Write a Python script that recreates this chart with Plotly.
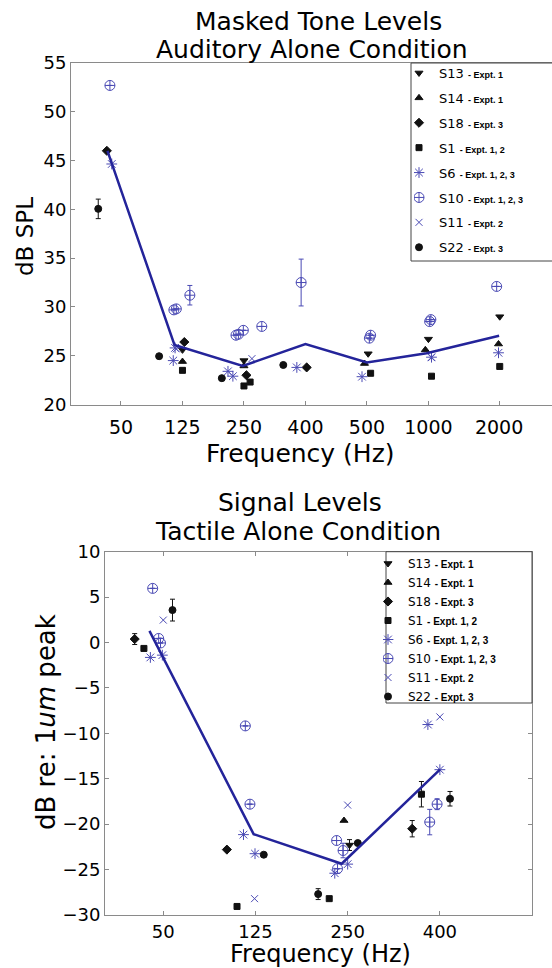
import plotly.graph_objects as go

# ---------------- axis ticks ----------------
top_tick_pos = [1, 2, 3, 4, 5, 6, 7.15]
top_tick_labels = ["50", "125", "250", "400", "500", "1000", "2000"]
top_y_ticks = [20, 25, 30, 35, 40, 45, 50, 55]
bot_tick_pos = [1, 2, 3, 4]
bot_tick_labels = ["50", "125", "250", "400"]
bot_y_ticks = [-30, -25, -20, -15, -10, -5, 0, 5, 10]

# ---------------- top panel (Masked tone levels, dB SPL) ----------------
top_line_x = [0.78, 1.87, 2.98, 4.0, 5.0, 5.97, 7.15]
top_line_y = [46.0, 26.1, 23.95, 26.2, 24.3, 25.25, 27.05]

top_S13_x = [2.0, 3.0, 5.02, 6.0, 7.16]
top_S13_y = [25.6, 24.5, 25.2, 26.7, 29.0]
top_S14_x = [2.0, 3.0, 4.96, 5.95, 7.14]
top_S14_y = [24.4, 23.95, 24.2, 25.6, 26.2]
top_S18_x = [0.77, 2.03, 3.04, 4.02]
top_S18_y = [46.0, 26.4, 23.0, 23.8]
top_S1_x = [2.0, 3.0, 3.1, 5.06, 6.05, 7.16]
top_S1_y = [23.5, 21.9, 22.3, 23.2, 22.9, 23.9]
top_S6_x = [0.85, 1.85, 1.88, 2.74, 2.82, 3.86, 4.92, 6.05, 7.14]
top_S6_y = [44.65, 24.5, 25.8, 23.4, 22.9, 23.8, 22.85, 24.85, 25.3]
top_S10_x = [0.82, 1.86, 1.9, 2.12, 2.87, 2.91, 2.99, 3.29, 3.93, 5.04, 5.06, 6.02, 6.04, 7.11]
top_S10_y = [52.7, 29.7, 29.8, 31.2, 27.1, 27.2, 27.6, 28.0, 32.5, 26.8, 27.1, 28.5, 28.7, 32.1]
top_S10_err = [None, None, None, 1.0, None, None, None, None, 2.4, None, None, None, None, None]
top_S11_x = [1.9, 3.13, 6.05]
top_S11_y = [25.7, 24.7, 24.8]
top_S22_x = [0.63, 1.62, 2.64, 3.64]
top_S22_y = [40.05, 24.95, 22.7, 24.05]
top_S22_err = [1.0, None, None, None]

# ---------------- bottom panel (Signal levels, dB re 1um peak) ----------------
bot_line_x = [0.85, 1.98, 2.935, 4.0]
bot_line_y = [1.29, -21.1, -24.36, -14.0]

bot_S13_x = [3.02]
bot_S13_y = [-22.3]
bot_S13_err = [0.6]
bot_S14_x = [2.96]
bot_S14_y = [-19.6]
bot_S18_x = [0.69, 1.69, 3.70]
bot_S18_y = [0.38, -22.8, -20.5]
bot_S18_err = [0.6, None, 0.9]
bot_S1_x = [0.79, 1.80, 2.80, 3.80]
bot_S1_y = [-0.65, -29.06, -28.2, -16.7]
bot_S1_err = [None, None, None, 1.4]
bot_S6_x = [0.86, 0.99, 1.87, 1.995, 2.86, 3.0, 3.87, 4.0]
bot_S6_y = [-1.64, -1.39, -21.15, -23.25, -25.4, -24.4, -9.03, -14.0]
bot_S10_x = [0.885, 0.95, 0.97, 1.89, 1.94, 2.88, 2.89, 2.95, 3.89, 3.97]
bot_S10_y = [5.96, 0.45, -0.05, -9.18, -17.8, -21.8, -24.9, -22.9, -19.77, -17.8]
bot_S10_err = [None, None, None, None, None, None, None, 0.8, 1.4, 0.6]
bot_S11_x = [1.0, 1.99, 3.0, 4.0]
bot_S11_y = [2.47, -28.2, -17.9, -8.19]
bot_S22_x = [1.10, 2.09, 2.68, 3.11, 4.11]
bot_S22_y = [3.57, -23.36, -27.7, -22.08, -17.2]
bot_S22_err = [1.2, None, 0.6, None, 0.8]

# ---------------- styling ----------------
W, H = 552, 968
BLACK = "#111111"
BLUE = "#4a4ab4"
LINE = "#24249a"
FONT = "DejaVu Sans, Liberation Sans, Arial, sans-serif"
SMALLFONT = "Liberation Sans"

subjects = [
    ("S13", "Expt. 1", "triangle-down", BLACK, 7),
    ("S14", "Expt. 1", "triangle-up", BLACK, 7),
    ("S18", "Expt. 3", "diamond", BLACK, 7),
    ("S1", "Expt. 1, 2", "square", BLACK, 6),
    ("S6", "Expt. 1, 2, 3", "asterisk-open", BLUE, 9),
    ("S10", "Expt. 1, 2, 3", "circle-cross-open", BLUE, 10),
    ("S11", "Expt. 2", "x-thin-open", BLUE, 7),
    ("S22", "Expt. 3", "circle", BLACK, 7),
]

top_data = {
    "S13": (top_S13_x, top_S13_y, None),
    "S14": (top_S14_x, top_S14_y, None),
    "S18": (top_S18_x, top_S18_y, None),
    "S1": (top_S1_x, top_S1_y, None),
    "S6": (top_S6_x, top_S6_y, None),
    "S10": (top_S10_x, top_S10_y, top_S10_err),
    "S11": (top_S11_x, top_S11_y, None),
    "S22": (top_S22_x, top_S22_y, top_S22_err),
}
bot_data = {
    "S13": (bot_S13_x, bot_S13_y, bot_S13_err),
    "S14": (bot_S14_x, bot_S14_y, None),
    "S18": (bot_S18_x, bot_S18_y, bot_S18_err),
    "S1": (bot_S1_x, bot_S1_y, bot_S1_err),
    "S6": (bot_S6_x, bot_S6_y, None),
    "S10": (bot_S10_x, bot_S10_y, bot_S10_err),
    "S11": (bot_S11_x, bot_S11_y, None),
    "S22": (bot_S22_x, bot_S22_y, bot_S22_err),
}


def label(name, expt, small):
    return (f"{name} <span style='font-family:{SMALLFONT};font-size:{small}px;"
            f"font-weight:bold'>- {expt}</span>")


fig = go.Figure()

for panel, data, xa, ya, leg, lx, ly, small in [
    ("t", top_data, "x", "y", "legend", top_line_x, top_line_y, 9),
    ("b", bot_data, "x2", "y2", "legend2", bot_line_x, bot_line_y, 10),
]:
    for name, expt, sym, col, size in subjects:
        xs, ys, err = data[name]
        ey = None
        if err is not None:
            ey = dict(type="data", array=err, symmetric=True, color=col,
                      thickness=1, width=2.5)
        fig.add_trace(go.Scatter(
            x=xs, y=ys, mode="markers", name=label(name, expt, small),
            marker=dict(symbol=sym, color=col, size=size,
                        line=dict(color=col, width=1)),
            error_y=ey, xaxis=xa, yaxis=ya, legend=leg,
            legendgroup=panel + name,
        ))
    fig.add_trace(go.Scatter(x=lx, y=ly, mode="lines",
                             line=dict(color=LINE, width=2.5), showlegend=False,
                             xaxis=xa, yaxis=ya, legend=leg, legendgroup=panel + "line"))

axis_common = dict(showgrid=False, zeroline=False, showline=True,
                   linecolor="#8a8a8a", linewidth=1, ticks="inside",
                   tickcolor="#8a8a8a", ticklen=4)
xfont = dict(family=FONT, size=19, color="black")
xfont2 = dict(family=FONT, size=18, color="black")
yfont = dict(family=FONT, size=18, color="black")

fig.update_layout(
    width=W, height=H,
    margin=dict(l=0, r=0, t=0, b=0, autoexpand=False),
    paper_bgcolor="white", plot_bgcolor="white",
    font=dict(family=FONT, color="black"),
    xaxis=dict(domain=[71 / W, 1.0], range=[0.187, 8.01], anchor="y",
               tickmode="array", tickvals=top_tick_pos, ticktext=top_tick_labels,
               mirror=True, tickfont=xfont, ticklabelstandoff=6, **axis_common),
    yaxis=dict(domain=[1 - 404.5 / H, 1 - 63 / H], range=[20, 55], anchor="x",
               tickmode="array", tickvals=top_y_ticks, tickfont=yfont, **axis_common),
    xaxis2=dict(domain=[105 / W, 531.7 / W], range=[0.368, 4.996], anchor="y2",
                tickmode="array", tickvals=bot_tick_pos, ticktext=bot_tick_labels,
                mirror="ticks", tickfont=xfont2, ticklabelstandoff=0, **axis_common),
    yaxis2=dict(domain=[1 - 915 / H, 1 - 551.7 / H], range=[-30, 10], anchor="x2",
                tickmode="array", tickvals=bot_y_ticks, mirror="ticks",
                tickfont=yfont, **axis_common),
    legend=dict(x=414 / W, y=1 - 58 / H, xanchor="left", yanchor="top",
                bgcolor="rgba(0,0,0,0)", borderwidth=0,
                font=dict(family=FONT, size=13, color="black"),
                tracegroupgap=5, itemwidth=30, indentation=-15),
    legend2=dict(x=383 / W, y=1 - 549 / H, xanchor="left", yanchor="top",
                 bgcolor="rgba(0,0,0,0)", borderwidth=0,
                 font=dict(family=FONT, size=12, color="black"),
                 tracegroupgap=0, itemwidth=30, indentation=-15),
)

# legend frames (opaque boxes behind the legend entries)
for x0, x1, y0, y1 in [(411, 560, 63, 261), (386, 532, 551.7, 703)]:
    fig.add_shape(type="rect", xref="paper", yref="paper",
                  x0=x0 / W, x1=x1 / W, y0=1 - y1 / H, y1=1 - y0 / H,
                  line=dict(color="#444444", width=1), fillcolor="white",
                  layer="above")

ann = [
    ("Masked Tone Levels", 318, 22, 25),
    ("Auditory Alone Condition", 312, 50, 25),
    ("Frequency (Hz)", 300, 453, 25),
    ("Signal Levels", 300, 502, 25),
    ("Tactile Alone Condition", 298, 531, 25),
    ("Frequency (Hz)", 320, 954, 24),
]
for text, ax, ay, fs in ann:
    fig.add_annotation(text=text, x=ax / W, y=1 - ay / H, xref="paper", yref="paper",
                       showarrow=False, xanchor="center", yanchor="middle",
                       font=dict(family=FONT, size=fs, color="black"))
fig.add_annotation(text="dB SPL", x=25 / W, y=1 - 237 / H, xref="paper", yref="paper",
                   showarrow=False, textangle=-90, xanchor="center", yanchor="middle",
                   font=dict(family=FONT, size=23, color="black"))
fig.add_annotation(text="dB re: 1<i>um</i> peak", x=46 / W, y=1 - 722 / H, xref="paper",
                   yref="paper", showarrow=False, textangle=-90, xanchor="center",
                   yanchor="middle", font=dict(family=FONT, size=26, color="black"))

fig.write_html("out.html",
               config={"displayModeBar": False},
               post_script="document.body.style.margin='0';"
                           "document.body.style.overflow='hidden';")
